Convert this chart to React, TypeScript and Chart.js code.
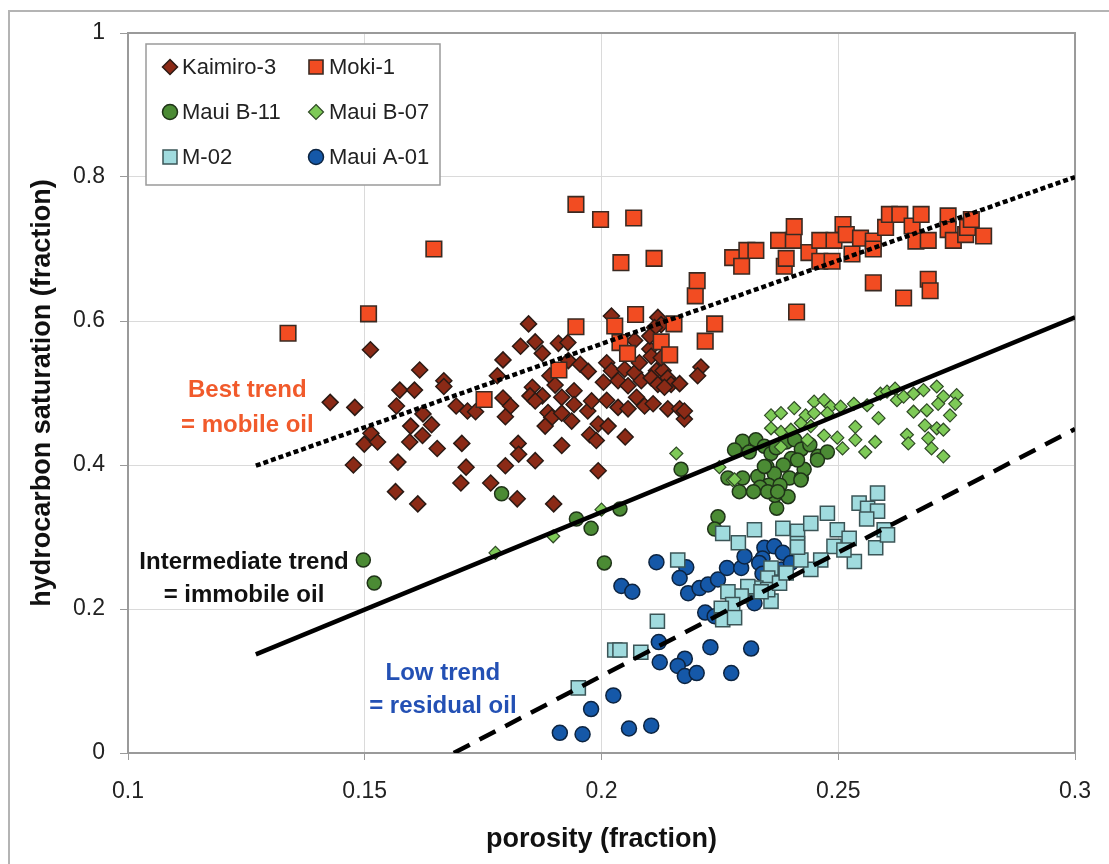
import React, { useEffect, useRef } from 'react';
import { Chart, registerables } from 'chart.js';

Chart.register(...registerables);

const FONT = '"Liberation Sans", Arial, Helvetica, sans-serif';

const xTickValues = [0.1, 0.15, 0.2, 0.25, 0.3];
const xTickLabels = ['0.1', '0.15', '0.2', '0.25', '0.3'];
const yTickValues = [0, 0.2, 0.4, 0.6, 0.8, 1];
const yTickLabels = ['0', '0.2', '0.4', '0.6', '0.8', '1'];

const seriesNames = ['Kaimiro-3', 'Moki-1', 'Maui B-11', 'Maui B-07', 'M-02', 'Maui A-01'];

type P = [number, number];

const kaimiro3: P[] = [
  [0.1512, 0.560], [0.1616, 0.532], [0.1574, 0.504], [0.1605, 0.504], [0.1667, 0.517], [0.1667, 0.509],
  [0.1427, 0.487], [0.1479, 0.480], [0.1567, 0.482], [0.1623, 0.471], [0.1641, 0.456], [0.1693, 0.482],
  [0.1597, 0.454], [0.1622, 0.441], [0.1513, 0.444], [0.1499, 0.429], [0.1527, 0.432], [0.1595, 0.432],
  [0.1653, 0.423], [0.1705, 0.430], [0.1476, 0.400], [0.1570, 0.404], [0.1703, 0.375], [0.1565, 0.363],
  [0.1612, 0.346], [0.1714, 0.397],
  [0.1846, 0.596], [0.1829, 0.565], [0.1860, 0.571], [0.1875, 0.555], [0.1909, 0.569], [0.1929, 0.570],
  [0.1792, 0.546], [0.1780, 0.524], [0.1717, 0.475], [0.1734, 0.474], [0.1792, 0.493],
  [0.1808, 0.482], [0.1797, 0.467], [0.1854, 0.508], [0.1849, 0.496], [0.1875, 0.496], [0.1860, 0.489],
  [0.1891, 0.524], [0.1902, 0.511], [0.1916, 0.494], [0.1942, 0.503], [0.1942, 0.484], [0.1887, 0.473],
  [0.1895, 0.466], [0.1881, 0.454], [0.1916, 0.472], [0.1937, 0.461], [0.1930, 0.545], [0.1955, 0.540],
  [0.1972, 0.530], [0.1971, 0.475], [0.1979, 0.489], [0.1993, 0.457], [0.2014, 0.454], [0.1975, 0.442],
  [0.1989, 0.434], [0.2050, 0.439], [0.2011, 0.542], [0.2021, 0.607], [0.2070, 0.573], [0.2102, 0.561],
  [0.2119, 0.605], [0.2126, 0.595], [0.2112, 0.591], [0.2021, 0.531], [0.2035, 0.517], [0.2049, 0.533],
  [0.2070, 0.528], [0.2080, 0.542], [0.2084, 0.517], [0.2056, 0.510], [0.2074, 0.494], [0.2004, 0.515],
  [0.2011, 0.490], [0.2035, 0.480], [0.2056, 0.478], [0.2091, 0.482], [0.2109, 0.485], [0.2116, 0.531],
  [0.2130, 0.531], [0.2105, 0.521], [0.2119, 0.512], [0.2140, 0.521], [0.2147, 0.512], [0.2165, 0.513],
  [0.2133, 0.508], [0.2140, 0.478], [0.2165, 0.478], [0.2175, 0.464], [0.2175, 0.475], [0.2210, 0.536],
  [0.2203, 0.524], [0.2102, 0.579], [0.2105, 0.551], [0.2126, 0.549], [0.1797, 0.399], [0.1824, 0.430],
  [0.1825, 0.415], [0.1860, 0.406], [0.1916, 0.427], [0.1993, 0.392], [0.1766, 0.375],
  [0.1822, 0.353], [0.1899, 0.346],
];

const moki1: P[] = [
  [0.1338, 0.583], [0.1508, 0.610], [0.1646, 0.700], [0.1752, 0.491], [0.1910, 0.532], [0.1946, 0.762],
  [0.1946, 0.592], [0.1998, 0.741], [0.2028, 0.593], [0.2039, 0.570], [0.2041, 0.681], [0.2055, 0.555],
  [0.2068, 0.743], [0.2072, 0.609], [0.2111, 0.687], [0.2126, 0.571], [0.2144, 0.553], [0.2153, 0.596],
  [0.2198, 0.635], [0.2202, 0.656], [0.2219, 0.572], [0.2239, 0.596], [0.2277, 0.688], [0.2296, 0.676],
  [0.2307, 0.698], [0.2326, 0.698], [0.2374, 0.712], [0.2386, 0.676], [0.2390, 0.687], [0.2405, 0.712],
  [0.2407, 0.731], [0.2412, 0.6125], [0.2438, 0.695], [0.2461, 0.683], [0.2461, 0.712], [0.2487, 0.683],
  [0.2491, 0.712], [0.2510, 0.734], [0.2517, 0.720], [0.2529, 0.693], [0.2547, 0.715], [0.2574, 0.711],
  [0.2574, 0.700], [0.2574, 0.653], [0.2600, 0.730], [0.2608, 0.748], [0.2630, 0.748], [0.2638, 0.632],
  [0.2656, 0.732], [0.2664, 0.711], [0.2675, 0.748], [0.2690, 0.712], [0.2690, 0.658], [0.2694, 0.642],
  [0.2732, 0.746], [0.2732, 0.727], [0.2743, 0.712], [0.2769, 0.720], [0.2773, 0.730], [0.2781, 0.741],
  [0.2807, 0.718],
];

const mauiB11: P[] = [
  [0.1497, 0.268], [0.1520, 0.236], [0.1789, 0.360], [0.1947, 0.325], [0.1978, 0.312], [0.2039, 0.339],
  [0.2006, 0.264], [0.2168, 0.394], [0.2246, 0.328], [0.2239, 0.311], [0.2370, 0.340],
  [0.2298, 0.433], [0.2281, 0.421], [0.2326, 0.435], [0.2344, 0.426], [0.2312, 0.418], [0.2358, 0.416],
  [0.2369, 0.424], [0.2390, 0.432], [0.2408, 0.435], [0.2422, 0.422], [0.2440, 0.428], [0.2457, 0.412],
  [0.2477, 0.418], [0.2401, 0.409], [0.2384, 0.400], [0.2349, 0.398], [0.2365, 0.388], [0.2397, 0.382],
  [0.2422, 0.382], [0.2330, 0.384], [0.2267, 0.382], [0.2298, 0.382], [0.2291, 0.363], [0.2353, 0.372],
  [0.2377, 0.372], [0.2335, 0.369], [0.2366, 0.358], [0.2394, 0.356], [0.2321, 0.363], [0.2428, 0.394],
  [0.2414, 0.407], [0.2351, 0.363], [0.2372, 0.363], [0.2421, 0.379], [0.2344, 0.398], [0.2456, 0.407],
];

const mauiB07: P[] = [
  [0.1776, 0.278], [0.1898, 0.301], [0.2000, 0.338], [0.2277, 0.379], [0.2158, 0.416], [0.2249, 0.397],
  [0.2281, 0.380], [0.2358, 0.469], [0.2379, 0.472], [0.2407, 0.479], [0.2358, 0.451], [0.2379, 0.446],
  [0.2431, 0.469], [0.2449, 0.488], [0.2470, 0.490], [0.2484, 0.481], [0.2449, 0.472], [0.2505, 0.481],
  [0.2533, 0.485], [0.2561, 0.483], [0.2589, 0.499], [0.2603, 0.502], [0.2620, 0.506], [0.2624, 0.490],
  [0.2638, 0.495], [0.2659, 0.499], [0.2680, 0.504], [0.2708, 0.509], [0.2722, 0.495], [0.2750, 0.497],
  [0.2747, 0.485], [0.2711, 0.485], [0.2687, 0.476], [0.2659, 0.474], [0.2736, 0.469], [0.2585, 0.465],
  [0.2536, 0.453], [0.2536, 0.435], [0.2498, 0.438], [0.2470, 0.441], [0.2435, 0.435], [0.2379, 0.425],
  [0.2509, 0.423], [0.2557, 0.418], [0.2578, 0.432], [0.2645, 0.442], [0.2648, 0.430], [0.2683, 0.455],
  [0.2690, 0.437], [0.2708, 0.451], [0.2722, 0.449], [0.2697, 0.423], [0.2722, 0.412], [0.2477, 0.472],
  [0.2421, 0.458], [0.2442, 0.454], [0.2400, 0.449],
];

const m02: P[] = [
  [0.2161, 0.268], [0.2256, 0.305], [0.2323, 0.310], [0.2289, 0.292], [0.2383, 0.312], [0.2414, 0.308],
  [0.2414, 0.291], [0.2442, 0.319], [0.2477, 0.333], [0.2498, 0.310], [0.2523, 0.298], [0.2544, 0.347],
  [0.2562, 0.340], [0.2583, 0.361], [0.2583, 0.336], [0.2560, 0.325], [0.2534, 0.266], [0.2579, 0.285],
  [0.2597, 0.310], [0.2604, 0.303], [0.2491, 0.287], [0.2512, 0.282], [0.2463, 0.268], [0.2442, 0.255],
  [0.2421, 0.268], [0.2414, 0.286], [0.2358, 0.257], [0.2351, 0.243], [0.2326, 0.229], [0.2309, 0.231],
  [0.2295, 0.218], [0.2267, 0.224], [0.2277, 0.206], [0.2253, 0.201], [0.2256, 0.185], [0.2281, 0.188],
  [0.2358, 0.211], [0.2351, 0.227], [0.2337, 0.224], [0.2118, 0.183], [0.2028, 0.143], [0.2039, 0.143],
  [0.2083, 0.140], [0.1951, 0.0905], [0.2376, 0.236], [0.2390, 0.250],
];

const mauiA01: P[] = [
  [0.2116, 0.265], [0.2179, 0.258], [0.2165, 0.243], [0.2042, 0.232], [0.2065, 0.224], [0.2183, 0.222],
  [0.2207, 0.229], [0.2225, 0.234], [0.2246, 0.241], [0.2265, 0.257], [0.2295, 0.257], [0.2302, 0.273],
  [0.2344, 0.285], [0.2365, 0.287], [0.2383, 0.278], [0.2340, 0.270], [0.2333, 0.264], [0.2340, 0.249],
  [0.2380, 0.255], [0.2400, 0.264], [0.2323, 0.208], [0.2219, 0.195], [0.2239, 0.190], [0.2121, 0.154],
  [0.2123, 0.126], [0.2176, 0.131], [0.2161, 0.121], [0.2176, 0.107], [0.2201, 0.111], [0.2230, 0.147],
  [0.2274, 0.111], [0.2316, 0.145], [0.2025, 0.080], [0.1978, 0.061], [0.1912, 0.028], [0.1960, 0.026],
  [0.2058, 0.034], [0.2105, 0.038],
];

const bestTrend: P[] = [[0.127, 0.399], [0.3, 0.8]];
const intermediateTrend: P[] = [[0.127, 0.137], [0.3, 0.605]];
const lowTrend: P[] = [[0.1688, 0], [0.3, 0.45]];

const trendLabels = [
  ['Best trend', '= mobile oil'],
  ['Intermediate trend', '= immobile oil'],
  ['Low trend', '= residual oil'],
];

const xTitle = 'porosity (fraction)';
const yTitle = 'hydrocarbon saturation (fraction)';

const toXY = (arr: P[]) => arr.map(([x, y]) => ({ x, y }));

type Style = { shape: string; bg: string; border: string; r: number; bw: number };
const styles: Record<string, Style> = {
  'Kaimiro-3': { shape: 'rectRot', bg: '#8B2A16', border: '#2b1a14', r: 8, bw: 1.5 },
  'Moki-1': { shape: 'rect', bg: '#F24C22', border: '#3a2a22', r: 11, bw: 1.6 },
  'Maui B-11': { shape: 'circle', bg: '#4B8B34', border: '#1f3318', r: 7, bw: 1.5 },
  'Maui B-07': { shape: 'rectRot', bg: '#7ECA57', border: '#2f4a25', r: 6.5, bw: 1.2 },
  'M-02': { shape: 'rect', bg: '#A0DBDE', border: '#3b5557', r: 10, bw: 1.5 },
  'Maui A-01': { shape: 'circle', bg: '#1558A8', border: '#0d2440', r: 7.5, bw: 1.5 },
};

function drawMarker(ctx: CanvasRenderingContext2D, st: Style, x: number, y: number, size: number) {
  ctx.save();
  ctx.beginPath();
  if (st.shape === 'circle') {
    ctx.arc(x, y, size, 0, Math.PI * 2);
  } else if (st.shape === 'rect') {
    ctx.rect(x - size, y - size, size * 2, size * 2);
  } else {
    ctx.moveTo(x, y - size);
    ctx.lineTo(x + size, y);
    ctx.lineTo(x, y + size);
    ctx.lineTo(x - size, y);
    ctx.closePath();
  }
  ctx.fillStyle = st.bg;
  ctx.fill();
  ctx.lineWidth = st.bw;
  ctx.strokeStyle = st.border;
  ctx.stroke();
  ctx.restore();
}

const annotationPos = [
  { x: 0.1252, y: 0.503, dy: 0.048, color: '#F15A2B' },
  { x: 0.1245, y: 0.265, dy: 0.046, color: '#111111' },
  { x: 0.1665, y: 0.111, dy: 0.046, color: '#2350B4' },
];

const decorPlugin = {
  id: 'decor',
  beforeDraw(chart: any) {
    const ctx = chart.ctx as CanvasRenderingContext2D;
    ctx.save();
    ctx.fillStyle = '#ffffff';
    ctx.fillRect(0, 0, chart.width, chart.height);
    ctx.strokeStyle = '#b4b4b4';
    ctx.lineWidth = 2;
    ctx.beginPath();
    ctx.moveTo(9, chart.height + 5);
    ctx.lineTo(9, 11);
    ctx.lineTo(chart.width + 5, 11);
    ctx.stroke();
    ctx.restore();
  },
  beforeDatasetsDraw(chart: any) {
    const ctx = chart.ctx as CanvasRenderingContext2D;
    const a = chart.chartArea;
    ctx.save();
    ctx.strokeStyle = '#9a9a9a';
    ctx.lineWidth = 2;
    ctx.strokeRect(a.left, a.top, a.right - a.left, a.bottom - a.top);
    ctx.restore();
  },
  afterDatasetsDraw(chart: any) {
    const ctx = chart.ctx as CanvasRenderingContext2D;
    const xs = chart.scales.x;
    const ys = chart.scales.y;
    ctx.save();
    ctx.font = `bold 24px ${FONT}`;
    ctx.textAlign = 'center';
    ctx.textBaseline = 'middle';
    trendLabels.forEach((lines, i) => {
      const p = annotationPos[i];
      ctx.fillStyle = p.color;
      lines.forEach((t, j) => {
        ctx.fillText(t, xs.getPixelForValue(p.x), ys.getPixelForValue(p.y - j * p.dy));
      });
    });
    // legend
    const L = { left: 146, top: 44, w: 294, h: 141 };
    ctx.fillStyle = '#ffffff';
    ctx.fillRect(L.left, L.top, L.w, L.h);
    ctx.strokeStyle = '#9a9a9a';
    ctx.lineWidth = 1.5;
    ctx.strokeRect(L.left, L.top, L.w, L.h);
    ctx.font = `22px ${FONT}`;
    ctx.textAlign = 'left';
    ctx.fillStyle = '#222222';
    const cols = [{ m: 170, t: 182 }, { m: 316, t: 329 }];
    const rows = [67, 112, 157];
    seriesNames.forEach((name, i) => {
      const c = cols[i % 2];
      const r = rows[Math.floor(i / 2)];
      const st = styles[name];
      const sz = st.shape === 'rect' ? 7 : 7.5;
      drawMarker(ctx, st, c.m, r, sz);
      ctx.fillStyle = '#222222';
      ctx.fillText(name, c.t, r + 1);
    });
    ctx.restore();
  },
};

function pointDataset(name: string, data: P[]) {
  const st = styles[name];
  return {
    label: name,
    data: toXY(data),
    pointStyle: st.shape,
    pointRadius: st.r,
    pointHoverRadius: st.r,
    pointBackgroundColor: st.bg,
    pointBorderColor: st.border,
    pointBorderWidth: st.bw,
    backgroundColor: st.bg,
    borderColor: st.border,
    showLine: false,
  };
}

function lineDataset(label: string, data: P[], dash: number[]) {
  return {
    label,
    data: toXY(data),
    showLine: true,
    borderColor: '#000000',
    borderWidth: 4.5,
    borderDash: dash,
    pointRadius: 0,
    pointHoverRadius: 0,
    fill: false,
  };
}

export default function App() {
  const ref = useRef<HTMLCanvasElement | null>(null);
  useEffect(() => {
    if (!ref.current) return;
    const chart = new Chart(ref.current, {
      type: 'scatter',
      data: {
        datasets: [
          lineDataset('best', bestTrend, [5, 3]),
          lineDataset('intermediate', intermediateTrend, []),
          lineDataset('low', lowTrend, [18, 11]),
          pointDataset('Moki-1', moki1),
          pointDataset('Kaimiro-3', kaimiro3),
          pointDataset('M-02', m02),
          pointDataset('Maui A-01', mauiA01),
          pointDataset('Maui B-07', mauiB07),
          pointDataset('Maui B-11', mauiB11),
        ] as any,
      },
      options: {
        animation: false,
        responsive: false,
        events: [],
        layout: { padding: { left: 0, top: 33, right: 28, bottom: 0 } },
        plugins: { legend: { display: false }, tooltip: { enabled: false } },
        scales: {
          x: {
            type: 'linear',
            min: 0.1,
            max: 0.3,
            afterFit: (s: any) => { s.height = 111; },
            afterBuildTicks: (s: any) => { s.ticks = xTickValues.map((v) => ({ value: v })); },
            ticks: {
              callback: (_v: any, i: number) => xTickLabels[i],
              font: { family: FONT, size: 23 },
              color: '#222222',
              padding: 18,
              maxRotation: 0,
            },
            grid: { color: '#dadada', lineWidth: 1, tickColor: '#9a9a9a', tickLength: 7 },
            border: { color: '#9a9a9a', width: 2 },
            title: {
              display: true,
              text: xTitle,
              font: { family: FONT, size: 27, weight: 'bold' },
              color: '#111111',
              padding: { top: 0, bottom: 8 },
            },
          },
          y: {
            type: 'linear',
            min: 0,
            max: 1,
            afterFit: (s: any) => { s.width = 128; },
            afterBuildTicks: (s: any) => { s.ticks = yTickValues.map((v) => ({ value: v })); },
            ticks: {
              callback: (_v: any, i: number) => yTickLabels[i],
              font: { family: FONT, size: 23 },
              color: '#222222',
              padding: 15,
            },
            grid: { color: '#dadada', lineWidth: 1, tickColor: '#9a9a9a', tickLength: 8 },
            border: { color: '#9a9a9a', width: 2 },
            title: {
              display: true,
              text: yTitle,
              font: { family: FONT, size: 27, weight: 'bold' },
              color: '#111111',
              padding: { top: 26, bottom: 0 },
            },
          },
        },
      } as any,
      plugins: [decorPlugin],
    });
    return () => chart.destroy();
  }, []);
  return (
    <div style={{ position: 'fixed', left: 0, top: 0, width: 1109, height: 864 }}>
      <canvas ref={ref} width={1109} height={864} style={{ display: 'block', width: 1109, height: 864 }} />
    </div>
  );
}
